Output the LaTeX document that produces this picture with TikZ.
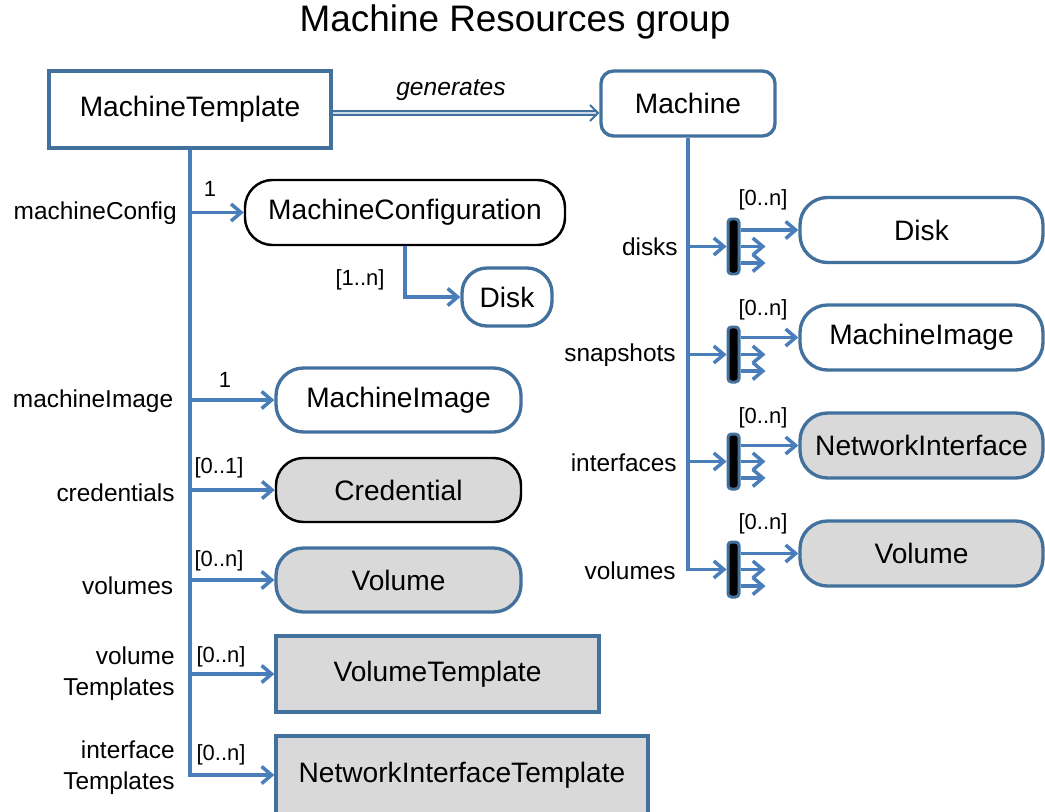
\documentclass[tikz,border=0pt]{standalone}
\usepackage{fontspec}
\setmainfont{Liberation Sans}
\usepackage{tikz}
\usetikzlibrary{arrows.meta,shapes,positioning}
\usepackage{xcolor}
\definecolor{mrborder}{RGB}{65,113,156}
\definecolor{mrline}{RGB}{74,126,187}
\definecolor{mrgray}{RGB}{217,217,217}
\definecolor{mrpale}{RGB}{205,218,235}
\tikzstyle{arrow} = [line width=2pt,-{Straight Barb[length=2mm,width=3.4mm]},color=mrline]
\tikzstyle{gen} = [draw=mrborder,double=mrpale,double distance=1.3pt,line width=1.1pt,-{Straight Barb[length=1.6mm,width=3.2mm]}]
\tikzstyle{res} = [draw=mrborder,line width=1.9pt,fill=white,rounded corners=0.55cm,minimum height=1.3cm,inner sep=0pt,font=\fontsize{16}{19}\selectfont]
\tikzstyle{resgray} = [res,fill=mrgray]
\tikzstyle{tmpl} = [draw=mrborder,line width=1.9pt,fill=mrgray,minimum height=1.52cm,inner sep=0pt,font=\fontsize{16}{19}\selectfont]
\tikzstyle{role} = [font=\fontsize{13.9}{16}\selectfont,align=right,anchor=east,inner sep=0pt]
\tikzstyle{mult} = [font=\fontsize{12.5}{14}\selectfont]
\tikzstyle{mbar} = [draw=mrborder,fill=black,line width=1.7pt,rounded corners=2pt,minimum width=0.22cm,minimum height=1.1cm,inner sep=0pt]

\begin{document}
\begin{tikzpicture}
\useasboundingbox (0,0) rectangle (20.9,-16.22);

% Title
\node[font=\fontsize{21}{25}\selectfont] (title) at (10.3,-0.44) {Machine Resources group};

% Top row
\node[tmpl,fill=white,minimum width=5.64cm,minimum height=1.54cm] (MachineTemplate) at (3.8,-2.19) {MachineTemplate};
\node[res,rounded corners=0.25cm,minimum width=3.48cm] (Machine) at (13.76,-2.07) {Machine};
\draw[gen] ([yshift=-0.07cm]MachineTemplate.east) -- ([yshift=-0.07cm]MachineTemplate.east -| Machine.west);
\node[font=\fontsize{14}{16}\selectfont\itshape] (genLabel) at (9.02,-1.8) {generates};

% Template side
\node[res,draw=black,line width=1.4pt,minimum width=6.4cm] (MachineConfig) at (8.1,-4.25) {MachineConfiguration};
\node[res,rounded corners=0.5cm,minimum width=1.8cm,minimum height=1.16cm] (DiskL) at (10.14,-5.94) {Disk};
\node[res,minimum width=4.9cm,minimum height=1.28cm] (ImageL) at (7.97,-8.0) {MachineImage};
\node[resgray,draw=black,line width=1.4pt,minimum width=4.9cm,minimum height=1.28cm] (Credential) at (7.97,-9.8) {Credential};
\node[resgray,minimum width=4.9cm,minimum height=1.28cm] (VolumeL) at (7.97,-11.6) {Volume};
\node[tmpl,minimum width=6.46cm] (VolumeTemplate) at (8.75,-13.48) {VolumeTemplate};
\node[tmpl,minimum width=7.44cm,minimum height=1.56cm] (NicTemplate) at (9.24,-15.5) {NetworkInterfaceTemplate};

\draw[arrow] (MachineTemplate.south) |- (NicTemplate.west);
\foreach \n in {MachineConfig,ImageL,Credential,VolumeL,VolumeTemplate} {
    \draw[arrow] (MachineTemplate.south |- \n.west) -- (\n.west);
}
\draw[arrow] (MachineConfig.south) |- (DiskL.west);

\node[role] (lConfig) at (3.54,-4.26) {machineConfig};
\node[role] (lImage) at (3.47,-8.02) {machineImage};
\node[role] (lCred) at (3.5,-9.86) {credentials};
\node[role] (lVol) at (3.47,-11.72) {volumes};
\node[role,font=\fontsize{13.9}{17.5}\selectfont] (lVolTmpl) at (3.5,-13.48) {volume\\Templates};
\node[role,font=\fontsize{13.9}{17.5}\selectfont] (lNicTmpl) at (3.5,-15.36) {interface\\Templates};

\node[mult] (mConfig) at (4.2,-3.78) {1};
\node[mult] (mDiskL) at (7.2,-5.6) {[1..n]};
\node[mult] (mImage) at (4.5,-7.6) {1};
\node[mult] (mCred) at (4.38,-9.36) {[0..1]};
\node[mult] (mVol) at (4.38,-11.22) {[0..n]};
\node[mult] (mVolTmpl) at (4.42,-13.14) {[0..n]};
\node[mult] (mNicTmpl) at (4.42,-15.1) {[0..n]};

% Machine side
\node[res,minimum width=4.86cm] (DiskR) at (18.43,-4.6) {Disk};
\node[res,minimum width=4.86cm] (ImageR) at (18.43,-6.75) {MachineImage};
\node[resgray,minimum width=4.86cm] (NicR) at (18.43,-8.91) {NetworkInterface};
\node[resgray,minimum width=4.86cm] (VolumeR) at (18.43,-11.07) {Volume};

\node[mbar] (bDisks) at (14.67,-4.93) {};
\node[mbar] (bSnaps) at (14.67,-7.09) {};
\node[mbar] (bIfaces) at (14.67,-9.23) {};
\node[mbar] (bVols) at (14.67,-11.39) {};

\foreach \b in {bDisks,bSnaps,bIfaces} {
    \draw[arrow] (Machine.south |- \b.west) -- (\b.west);
}
\draw[arrow] (Machine.south) |- (bVols.west);

\foreach \b/\t in {bDisks/DiskR,bSnaps/ImageR,bIfaces/NicR,bVols/VolumeR} {
    \draw[arrow] (\b.east |- \t.west) -- (\t.west);
    \draw[arrow] (\b.east) -- ++(0.5,0);
    \draw[arrow] ([yshift=-0.33cm]\b.east) -- ++(0.5,0);
}

\node[role] (lDisks) at (13.56,-4.94) {disks};
\node[role] (lSnaps) at (13.52,-7.1) {snapshots};
\node[role] (lIfaces) at (13.54,-9.26) {interfaces};
\node[role] (lVols) at (13.52,-11.42) {volumes};

\node[mult] (mDisks) at (15.26,-4.0) {[0..n]};
\node[mult] (mSnaps) at (15.26,-6.2) {[0..n]};
\node[mult] (mIfaces) at (15.26,-8.36) {[0..n]};
\node[mult] (mVols) at (15.26,-10.48) {[0..n]};
\end{tikzpicture}
\end{document}
